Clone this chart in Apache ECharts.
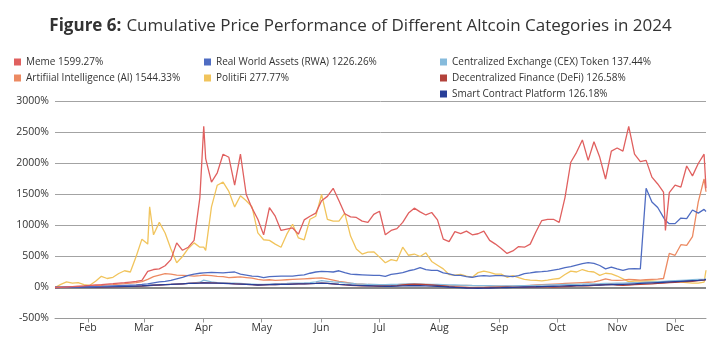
<!DOCTYPE html>
<html><head><meta charset="utf-8">
<script src="https://cdn.jsdelivr.net/npm/echarts@6/dist/echarts.min.js"></script>
<style>html,body{margin:0;padding:0;background:#fff}#c{width:721px;height:343px}</style>
</head><body><div id="c"></div>
<script>
// sample dates (MM-DD, 2024)
const sampleDates = ["01-15","01-18","01-21","01-24","01-27","01-30","02-02","02-05","02-08","02-11","02-14","02-17","02-20","02-23","02-26","02-29","03-03","03-04","03-06","03-09","03-12","03-15","03-18","03-21","03-24","03-27","03-30","04-01","04-02","04-05","04-08","04-11","04-14","04-17","04-20","04-23","04-26","04-29","05-02","05-05","05-08","05-11","05-14","05-17","05-20","05-23","05-26","05-29","06-01","06-04","06-07","06-10","06-13","06-16","06-19","06-22","06-25","06-28","07-01","07-04","07-07","07-10","07-13","07-16","07-19","07-22","07-25","07-28","07-31","08-03","08-06","08-09","08-12","08-15","08-18","08-21","08-24","08-27","08-30","09-02","09-05","09-08","09-11","09-14","09-17","09-20","09-23","09-26","09-29","10-02","10-05","10-08","10-11","10-14","10-17","10-20","10-23","10-26","10-29","11-01","11-04","11-07","11-10","11-13","11-16","11-19","11-22","11-25","11-26","11-28","12-01","12-04","12-07","12-10","12-13","12-16","12-17"];

const memeVals = [0,3,8,14,20,26,33,40,47,55,62,70,78,88,98,115,
260,275,
290,300,350,450,720,600,650,760,1450,
2600,
2080,1700,1850,2150,2100,1650,2150,1500,1280,1100,
850,1290,1150,920,940,960,860,1090,1150,1200,
1400,1470,1600,1400,1190,1140,1130,1070,1050,1180,
1230,850,920,950,1050,1200,1280,1220,1170,1210,
1090,780,740,900,870,910,850,867,910,760,
700,630,550,590,660,650,700,900,1080,1100,
1100,1050,1450,2020,2180,2380,2050,2350,2100,1750,
2200,2250,2200,2600,2150,2030,2050,1780,1670,1540,
920,
1530,1650,1620,1960,1800,2000,2150,
1600];

const aiVals = [0,3,7,11,15,20,25,30,36,42,48,55,62,70,80,95,
130,150,
175,200,225,215,200,195,190,185,190,
200,
195,190,180,175,160,165,170,160,150,130,
120,125,115,120,125,130,135,140,145,150,
155,140,120,100,85,70,60,55,48,45,
40,40,42,45,48,50,52,55,50,45,
40,35,30,28,30,32,30,28,25,22,
20,18,20,22,25,30,35,40,45,50,
55,60,65,70,75,80,85,90,110,140,
120,115,120,130,125,120,125,130,135,145,
150,
550,520,690,680,820,1380,1750,
1544];

const rwaVals = [0,2,4,6,8,10,12,15,18,22,26,30,34,38,42,50,
60,65,
75,90,100,115,140,165,195,215,230,
235,
240,245,240,235,245,250,215,200,185,180,
160,175,180,185,185,185,195,205,230,250,
260,255,250,270,240,215,210,205,200,195,
195,180,210,225,240,270,290,320,290,275,
275,235,220,195,194,175,165,185,190,185,
190,190,185,175,190,225,235,250,255,265,
280,295,320,335,360,385,400,390,355,300,
330,300,275,300,305,300,1600,1380,1290,1130,
1080,
1030,1030,1120,1110,1250,1200,1260,
1226];

const politiVals = [0,50,90,70,80,45,35,100,180,145,165,226,270,250,500,780,
700,1300,
850,1050,880,620,400,500,630,720,650,
650,
600,1300,1650,1700,1550,1300,1480,1400,1300,880,
770,760,700,650,860,1020,800,770,1100,1150,
1500,1100,1070,1070,1200,830,620,540,570,575,
490,400,450,430,650,520,540,500,560,420,
360,300,210,200,210,185,165,240,265,245,
215,215,165,190,160,130,120,115,108,118,
134,145,210,265,250,290,260,250,195,230,
220,185,140,95,105,102,105,108,100,90,
88,
82,90,88,80,70,70,85,
278];

const cexVals = [0,1,2,3,4,5,6,8,10,12,14,16,18,20,22,25,
30,32,
35,40,45,50,55,60,65,75,85,
120,
110,90,80,75,70,70,65,60,55,50,
50,55,60,62,65,70,72,75,80,90,
110,100,90,85,75,70,60,55,50,48,
45,45,48,50,55,60,58,55,52,50,
48,45,42,40,38,35,32,30,30,28,
26,25,25,26,28,30,32,35,38,40,
42,45,48,50,52,55,58,60,62,65,
68,70,72,75,78,80,85,90,95,100,
102,
105,110,115,120,125,130,135,
137];

const defiVals = [0,1,2,3,4,5,6,7,8,10,12,14,16,18,20,24,
30,32,
36,40,45,50,55,60,65,70,75,
80,
78,75,70,68,65,60,55,50,45,40,
42,45,48,50,52,55,58,60,62,65,
70,68,60,50,42,35,30,28,25,22,
20,22,25,30,40,50,55,50,45,40,
35,25,15,10,5,0,-5,-5,-3,0,
2,5,5,3,2,5,8,10,12,10,
8,10,15,20,25,30,28,35,40,45,
50,40,35,40,45,50,55,60,65,70,
72,
80,85,90,95,100,110,120,
127];

const smartVals = [0,1,2,3,4,5,6,7,9,11,13,15,17,20,23,27,
32,34,
38,42,46,50,55,60,65,68,72,
75,
74,72,70,66,62,58,55,50,45,40,
42,45,48,50,52,55,58,60,62,65,
70,66,60,52,45,40,35,30,28,25,
22,20,20,22,25,28,30,28,25,22,
20,15,8,2,-3,-8,-10,-12,-10,-8,
-5,-3,0,2,5,8,10,12,15,18,
20,22,25,28,30,32,35,38,40,42,
45,48,50,55,60,65,70,75,80,85,
88,
90,95,100,105,110,115,122,
126];

const seriesNames = {
  meme: "Meme 1599.27%",
  ai: "Artifiial Intelligence (AI) 1544.33%",
  rwa: "Real World Assets (RWA) 1226.26%",
  politi: "PolitiFi 277.77%",
  cex: "Centralized Exchange (CEX) Token 137.44%",
  defi: "Decentralized Finance (DeFi) 126.58%",
  smart: "Smart Contract Platform 126.18%"
};
const monthNames = ["Jan","Feb","Mar","Apr","May","Jun","Jul","Aug","Sep","Oct","Nov","Dec"];
const yTicks = {min:-500, max:3000, step:500};

// daily axis categories Jan 15 .. Dec 17, 2024
const days = [];
for (let t = Date.UTC(2024,0,15); t <= Date.UTC(2024,11,17); t += 86400000) {
  const d = new Date(t);
  days.push(String(d.getUTCMonth()+1).padStart(2,'0') + '-' + String(d.getUTCDate()).padStart(2,'0'));
}
const pairs = vals => sampleDates.map((d,i) => [d, vals[i]]);
const isFirst = (i, v) => typeof v === 'string' ? v.slice(3) === '01' : days[i] && days[i].slice(3) === '01';

const colors = {meme:'#e0605f', ai:'#ec8a62', rwa:'#4f6cc2', politi:'#f1c45c', cex:'#86bbdc', defi:'#b3423b', smart:'#283e98'};

function mk(key, vals, z) {
  return {name: seriesNames[key], type:'line', data: pairs(vals), showSymbol:false, symbol:'none',
    lineStyle:{width:1.3, color: colors[key]}, itemStyle:{color: colors[key]}, z: z, silent:true};
}
const legendText = {fontSize:10, color:'#333', fontFamily:'Open Sans', lineHeight:12};
const chart = echarts.init(document.getElementById('c'), null, {renderer:'canvas'});
chart.setOption({
  animation:false,
  backgroundColor:'#fff',
  title:{text:'{b|Figure 6:} {n|Cumulative Price Performance of Different Altcoin Categories in 2024}',
    left:'center', top:12,
    textStyle:{fontWeight:'normal', rich:{b:{fontSize:17, fontWeight:'bold', color:'#333', fontFamily:'Open Sans'},
                     n:{fontSize:17, fontWeight:'normal', color:'#333', fontFamily:'Open Sans'}}}},
  legend:[
    {orient:'vertical', left:14, top:56, icon:'rect', itemWidth:7, itemHeight:7, itemGap:4, padding:0,
     textStyle:legendText, data:[seriesNames.meme, seriesNames.ai]},
    {orient:'vertical', left:204, top:56, icon:'rect', itemWidth:7, itemHeight:7, itemGap:4, padding:0,
     textStyle:legendText, data:[seriesNames.rwa, seriesNames.politi]},
    {orient:'vertical', left:440, top:56, icon:'rect', itemWidth:7, itemHeight:7, itemGap:4, padding:0,
     textStyle:legendText, data:[seriesNames.cex, seriesNames.defi, seriesNames.smart]}
  ],
  grid:{left:55, right:15, top:101.5, bottom:24.5, containLabel:false},
  xAxis:{type:'category', data:days, boundaryGap:false,
    axisLine:{onZero:false, lineStyle:{color:'#9a9a9a'}},
    axisTick:{interval:isFirst, length:4, lineStyle:{color:'#9a9a9a'}},
    axisLabel:{interval:isFirst, formatter:v => monthNames[+v.slice(0,2)-1], color:'#333', fontSize:10.5, fontFamily:'Open Sans', margin:4},
    splitLine:{show:false}},
  yAxis:{type:'value', min:yTicks.min, max:yTicks.max, interval:yTicks.step,
    axisLabel:{formatter:v => v + '%', color:'#333', fontSize:10.5, fontFamily:'Open Sans', margin:6},
    axisLine:{show:false}, axisTick:{show:false},
    splitLine:{lineStyle:{color:'#a3a3a3', width:1}}},
  series:[
    Object.assign(mk('politi', politiVals, 2), {markLine:{silent:true, symbol:'none', label:{show:false},
      lineStyle:{color:'#8a8a8a', width:2.2, type:'solid'}, data:[{yAxis:0}]}}),
    mk('ai', aiVals, 3),
    mk('cex', cexVals, 4),
    mk('defi', defiVals, 5),
    mk('smart', smartVals, 6),
    mk('rwa', rwaVals, 7),
    mk('meme', memeVals, 8)
  ]
});
</script></body></html>
